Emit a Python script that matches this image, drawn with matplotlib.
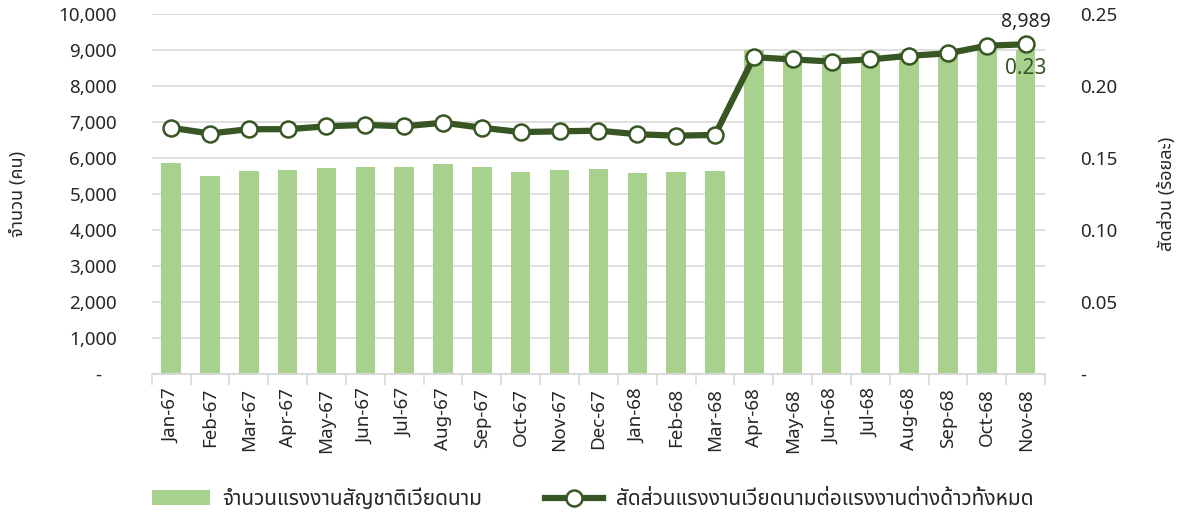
import matplotlib
matplotlib.use('Agg')
import matplotlib.pyplot as plt
from matplotlib import font_manager
from matplotlib.ft2font import FT2Font
from matplotlib.ticker import FuncFormatter, FixedLocator, MultipleLocator
import numpy as np

months = ['Jan-67', 'Feb-67', 'Mar-67', 'Apr-67', 'May-67', 'Jun-67', 'Jul-67', 'Aug-67',
          'Sep-67', 'Oct-67', 'Nov-67', 'Dec-67', 'Jan-68', 'Feb-68', 'Mar-68', 'Apr-68',
          'May-68', 'Jun-68', 'Jul-68', 'Aug-68', 'Sep-68', 'Oct-68', 'Nov-68']
workers = [5850, 5490, 5630, 5665, 5720, 5750, 5760, 5840, 5750, 5620, 5665, 5695,
           5590, 5610, 5640, 9000, 8925, 8860, 8905, 8950, 8970, 9045, 8989]
share = [0.171, 0.167, 0.170, 0.170, 0.172, 0.173, 0.172, 0.1745, 0.171, 0.168, 0.1685, 0.169,
         0.1665, 0.1655, 0.166, 0.220, 0.2185, 0.217, 0.2185, 0.221, 0.2227, 0.228, 0.229]

bar_label = 'จำนวนแรงงานสัญชาติเวียดนาม'
line_label = 'สัดส่วนแรงงานเวียดนามต่อแรงงานต่างด้าวทั้งหมด'


# look for a font that has Thai glyphs
def find_thai_font():
    preferred = ['Leelawadee UI', 'Tahoma', 'Noto Sans Thai', 'Noto Sans Thai UI', 'Loma',
                 'Garuda', 'Sarabun', 'Waree', 'Umpush', 'Norasi', 'Kinnari', 'FreeSans',
                 'DejaVu Sans', 'Noto Sans']
    found = {}
    for f in font_manager.fontManager.ttflist:
        if f.name in found:
            continue
        try:
            cmap = FT2Font(f.fname).get_charmap()
        except Exception:
            continue
        if 0x0E01 in cmap and 0x0E33 in cmap:
            found[f.name] = f.fname
    for name in preferred:
        if name in found:
            return name
    return next(iter(found), None)


thai = find_thai_font()
plt.rcParams['font.family'] = [thai, 'DejaVu Sans'] if thai else ['DejaVu Sans']

bar_color = '#a9d18e'
line_color = '#375623'
grid_color = '#d9d9d9'
text_color = '#262626'

fig = plt.figure(figsize=(11.85, 5.2), dpi=100)
ax = fig.add_axes([0.128, 0.281, 0.754, 0.692])
ax2 = ax.twinx()

x = np.arange(len(months))
bars = ax.bar(x, workers, width=0.5, color=bar_color, label=bar_label, zorder=2)
line, = ax2.plot(x, share, color=line_color, lw=4.5, marker='o', markersize=11.5,
                 markerfacecolor='white', markeredgecolor=line_color, markeredgewidth=1.8,
                 label=line_label, zorder=3)

ax.set_xlim(-0.5, len(months) - 0.5)
ax.set_ylim(0, 10000)
ax2.set_ylim(0, 0.25)
ax.yaxis.set_major_locator(MultipleLocator(1000))
ax2.yaxis.set_major_locator(MultipleLocator(0.05))
ax.yaxis.set_major_formatter(FuncFormatter(lambda v, p: '-   ' if v == 0 else f'{v:,.0f}'))
ax2.yaxis.set_major_formatter(FuncFormatter(lambda v, p: '-' if v == 0 else f'{v:.2f}'))

ax.grid(axis='y', color=grid_color, lw=1.2, zorder=0)
ax.set_axisbelow(True)
for a in (ax, ax2):
    for s in ('top', 'left', 'right'):
        a.spines[s].set_visible(False)
    a.spines['bottom'].set_color(grid_color)
    a.spines['bottom'].set_linewidth(1.2)

ax.set_xticks(x)
ax.set_xticklabels(months, rotation=90, fontsize=13.5, color=text_color)
ax.xaxis.set_minor_locator(FixedLocator(np.arange(-0.5, len(months), 1)))
ax.tick_params(axis='x', which='major', length=0, pad=10)
ax.tick_params(axis='x', which='minor', length=8, color=grid_color, width=1.2)
ax.tick_params(axis='y', length=0, pad=25, labelsize=13.5, labelcolor=text_color)
ax2.tick_params(axis='y', length=0, pad=25, labelsize=13.5, labelcolor=text_color)

ax.set_ylabel('จำนวน (คน)', fontsize=13, color=text_color, labelpad=23)
ax2.set_ylabel('สัดส่วน (ร้อยละ)', fontsize=13, color=text_color, rotation=90, labelpad=29)

# data labels on the last point
ax2.annotate(f'{workers[-1]:,}', (x[-1], share[-1]), xytext=(0, 9), textcoords='offset points',
             ha='center', va='bottom', fontsize=14, color=text_color)
ax2.annotate(f'{share[-1]:.2f}', (x[-1], share[-1]), xytext=(0, -10), textcoords='offset points',
             ha='center', va='top', fontsize=15, color=line_color)

fig.legend(handles=[bars, line], labels=[bar_label, line_label], loc='center',
           bbox_to_anchor=(0.5, 0.04), ncol=2, frameon=False, fontsize=15,
           handlelength=2.8, columnspacing=3.0, handletextpad=0.6, labelcolor=text_color)

fig.savefig('out.png', dpi=100)
